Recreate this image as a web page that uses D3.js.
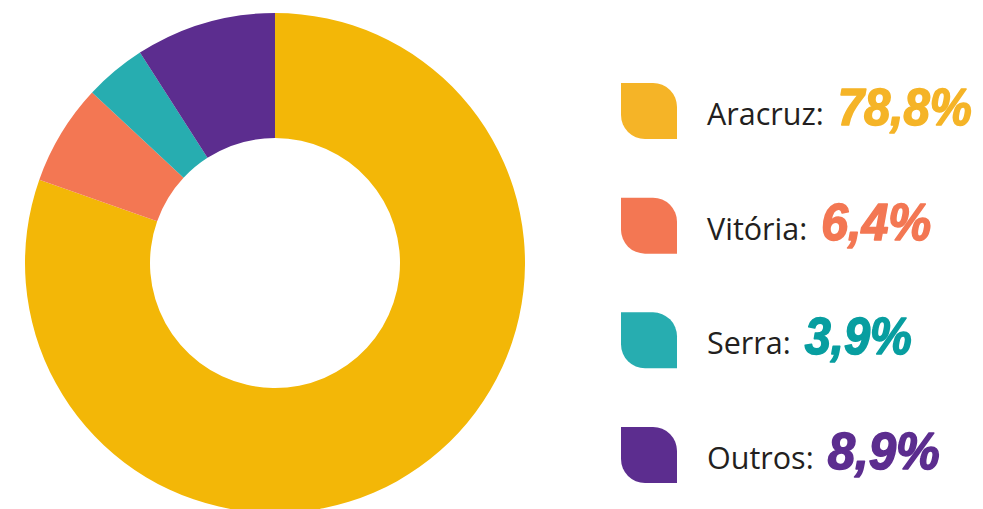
<!DOCTYPE html>
<html>
<head>
<meta charset="utf-8">
<script src="https://cdn.jsdelivr.net/npm/d3@7"></script>
<style>
  html, body { margin: 0; padding: 0; background: #fff; }
</style>
</head>
<body>
<div id="chart"></div>
<script>
// data
const cities = ["Aracruz", "Vitória", "Serra", "Outros"];
const shares = [78.8, 6.4, 3.9, 8.9];
const labels = ["78,8%", "6,4%", "3,9%", "8,9%"];

const sliceColors = ["#F3B707", "#F37753", "#27ADB0", "#5C2D8F"];
const iconColors = ["#F5B427", "#F37753", "#27ADB0", "#5C2D8F"];
const valueColors = ["#F5B427", "#F37753", "#089EA0", "#5C2D8F"];

const width = 983, height = 509;

const svg = d3.select("#chart")
  .append("svg")
  .attr("width", width)
  .attr("height", height)
  .attr("viewBox", [0, 0, width, height]);

// donut
const cx = 275, cy = 263, outerR = 250, innerR = 125;

const pie = d3.pie().sort(null).value(d => d)(shares);
const arc = d3.arc().innerRadius(innerR).outerRadius(outerR);

svg.append("g")
  .attr("transform", `translate(${cx},${cy})`)
  .selectAll("path")
  .data(pie)
  .join("path")
    .attr("fill", (d, i) => sliceColors[i])
    .attr("d", arc);

// legend
const y = d3.scalePoint().domain(cities).range([83, 427]);
const iconSize = 56, rr = 24;

const leaf = (s, r) => `M0,0 H${s - r} A${r},${r} 0 0 1 ${s},${r} V${s} H${r} A${r},${r} 0 0 1 0,${s - r} Z`;

const item = svg.append("g")
  .selectAll("g")
  .data(cities)
  .join("g")
    .attr("transform", d => `translate(621,${y(d)})`);

item.append("path")
  .attr("d", leaf(iconSize, rr))
  .attr("fill", (d, i) => iconColors[i]);

const name = item.append("text")
  .attr("x", 86)
  .attr("y", 42)
  .attr("font-family", "'Open Sans', sans-serif")
  .attr("font-size", 30.5)
  .attr("fill", "#231F20")
  .text(d => d + ":");

const valueWidths = [134, 110, 107, 112];

name.each(function(d, i) {
  const w = this.getComputedTextLength();
  d3.select(this.parentNode).append("text")
    .attr("x", 86 + w + 14)
    .attr("y", 42)
    .attr("font-family", "'Liberation Sans Narrow', 'Liberation Sans', sans-serif")
    .attr("font-weight", "bold")
    .attr("font-style", "italic")
    .attr("font-size", 51)
    .attr("textLength", valueWidths[i])
    .attr("lengthAdjust", "spacingAndGlyphs")
    .attr("fill", valueColors[i])
    .attr("stroke", valueColors[i])
    .attr("stroke-width", 1.6)
    .attr("stroke-linejoin", "round")
    .text(labels[i]);
});
</script>
</body>
</html>
